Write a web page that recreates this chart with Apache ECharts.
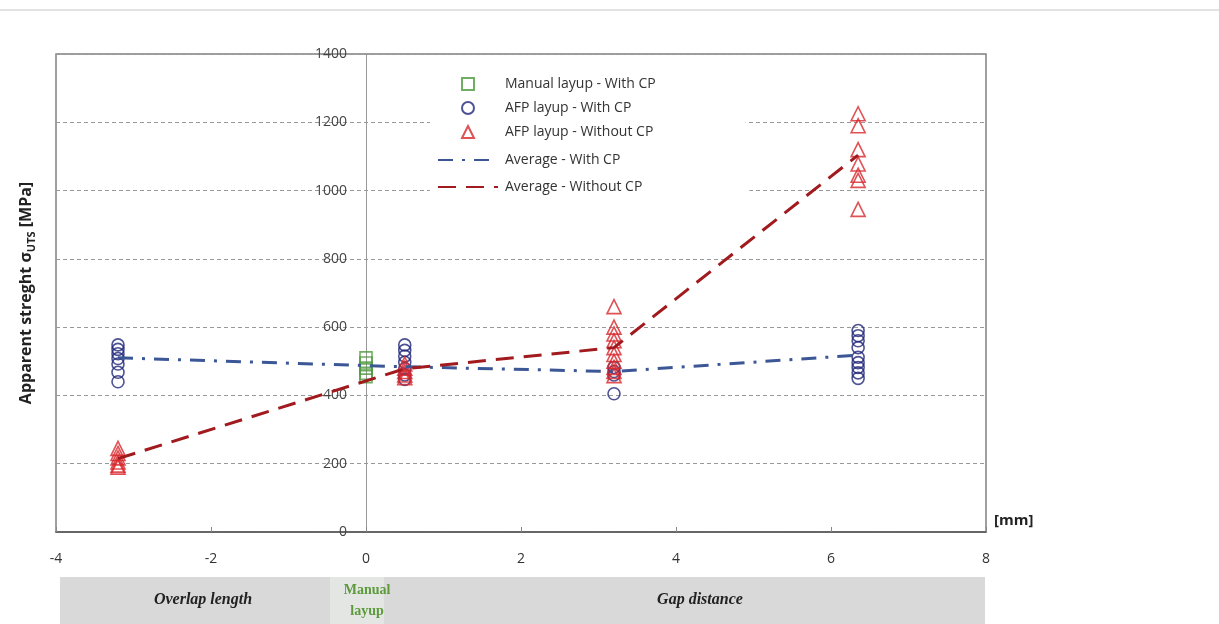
<!DOCTYPE html>
<html>
<head>
<meta charset="utf-8">
<script src="https://cdn.jsdelivr.net/npm/echarts@6/dist/echarts.min.js"></script>
<style>html,body{margin:0;padding:0;background:#fff;}#c{width:1219px;height:624px;}</style>
</head>
<body>
<div id="c"></div>
<script>
// ---- data ----
const seriesNames = ['Manual layup - With CP', 'AFP layup - With CP', 'AFP layup - Without CP', 'Average - With CP', 'Average - Without CP'];
const xTicks = [-4, -2, 0, 2, 4, 6, 8];
const yTicks = [0, 200, 400, 600, 800, 1000, 1200, 1400];

const manualX = [0];
const manualY = [[510, 495, 480, 465, 455]];

const afpWithX = [-3.2, 0.5, 3.2, 6.35];
const afpWithY = [
  [548, 535, 522, 508, 492, 468, 440],
  [548, 532, 515, 497, 478, 460, 447],
  [482, 470, 460, 405],
  [590, 575, 560, 540, 512, 496, 482, 466, 450]
];

const afpWithoutX = [-3.2, 0.5, 3.2, 6.35];
const afpWithoutY = [
  [245, 230, 217, 205, 196, 190],
  [492, 480, 470, 460, 452],
  [660, 600, 580, 560, 540, 520, 500, 482, 470, 458],
  [1225, 1190, 1120, 1078, 1045, 1030, 945]
];

const avgWithX = [-3.2, 0.5, 3.2, 6.35];
const avgWithY = [510, 484, 470, 518];
const avgWithoutX = [-3.2, 0.5, 3.2, 6.35];
const avgWithoutY = [215, 478, 540, 1104];

function pairs(xs, ys) {
  const out = [];
  xs.forEach((x, i) => ys[i].forEach(v => out.push([x, v])));
  return out;
}
function linePairs(xs, ys) { return xs.map((x, i) => [x, ys[i]]); }

const chart = echarts.init(document.getElementById('c'), null, {renderer: 'canvas'});
const sans = '"Open Sans", "Liberation Sans", sans-serif';

chart.setOption({
  animation: false,
  backgroundColor: '#fff',
  grid: {left: 56, right: 233, top: 54, bottom: 92, show: true, borderColor: '#808080', borderWidth: 1.5,
         backgroundColor: 'transparent', containLabel: false, outerBoundsMode: 'none'},
  legend: [
    {
      data: seriesNames.slice(0, 3),
      orient: 'vertical', left: 430, top: 69, itemGap: 10,
      itemWidth: 12, itemHeight: 12,
      backgroundColor: '#fff', padding: [8, 90, 8, 31],
      textStyle: {fontFamily: sans, fontSize: 14, color: '#333', padding: [0, 0, 0, 26]},
      z: 10
    },
    {
      data: seriesNames.slice(3),
      orient: 'vertical', left: 430, top: 145, itemGap: 13,
      itemWidth: 60, itemHeight: 12,
      backgroundColor: '#fff', padding: [8, 107, 8, 7],
      textStyle: {fontFamily: sans, fontSize: 14, color: '#333', padding: [0, 0, 0, 2]},
      z: 10
    }
  ],
  xAxis: {
    type: 'value', min: xTicks[0], max: xTicks[xTicks.length - 1], interval: 2,
    name: '[mm]', nameLocation: 'end', nameGap: 8,
    nameTextStyle: {fontFamily: sans, fontSize: 15, fontWeight: 'bold', color: '#222', verticalAlign: 'bottom', padding: [0, 0, 4, 0]},
    axisLine: {lineStyle: {color: '#555', width: 1.5}},
    axisTick: {inside: true, length: 5, lineStyle: {color: '#888'}},
    axisLabel: {margin: 20, fontFamily: sans, fontSize: 14, color: '#333'},
    splitLine: {show: false}
  },
  yAxis: {
    type: 'value', min: yTicks[0], max: yTicks[yTicks.length - 1], interval: 200,
    name: '{b|Apparent streght σ}{s|UTS}{b| [MPa]}',
    nameLocation: 'middle', nameGap: 19,
    nameTextStyle: {
      rich: {
        b: {fontFamily: sans, fontSize: 16, fontWeight: 'bold', color: '#222', lineHeight: 22},
        s: {fontFamily: sans, fontSize: 11, fontWeight: 'bold', color: '#222', lineHeight: 22, verticalAlign: 'bottom'}
      }
    },
    axisLine: {onZero: true, lineStyle: {color: '#999', width: 1}},
    axisTick: {show: false},
    axisLabel: {margin: -291, fontFamily: sans, fontSize: 14, color: '#444', formatter: v => String(v)},
    splitLine: {show: true, lineStyle: {color: '#999', type: [4, 3], width: 1}}
  },
  series: [
    {
      name: seriesNames[0], type: 'scatter', symbol: 'rect', symbolSize: 12,
      itemStyle: {color: 'rgba(255,255,255,0)', borderColor: '#4e9a3c', borderWidth: 1.6},
      data: pairs(manualX, manualY)
    },
    {
      name: seriesNames[1], type: 'scatter', symbol: 'circle', symbolSize: 12,
      itemStyle: {color: 'rgba(255,255,255,0)', borderColor: '#1f2778', borderWidth: 1.6},
      data: pairs(afpWithX, afpWithY)
    },
    {
      name: seriesNames[2], type: 'scatter', symbol: 'triangle', symbolSize: 14,
      itemStyle: {color: 'rgba(255,255,255,0)', borderColor: '#d8262b', borderWidth: 1.6},
      data: pairs(afpWithoutX, afpWithoutY)
    },
    {
      name: seriesNames[3], type: 'line', symbol: 'none',
      lineStyle: {color: '#3c5796', width: 3, type: [15, 9, 3, 9]},
      itemStyle: {color: 'rgba(0,0,0,0)', borderWidth: 0},
      data: linePairs(avgWithX, avgWithY)
    },
    {
      name: seriesNames[4], type: 'line', symbol: 'none',
      lineStyle: {color: '#a11a1e', width: 3, type: [18, 10]},
      itemStyle: {color: 'rgba(0,0,0,0)', borderWidth: 0},
      data: linePairs(avgWithoutX, avgWithoutY)
    }
  ],
  graphic: [
    {type: 'line', shape: {x1: 0, y1: 10, x2: 1219, y2: 10}, style: {stroke: '#e2e2e2', lineWidth: 2}, silent: true},
    {type: 'rect', shape: {x: 60, y: 577, width: 925, height: 50}, style: {fill: '#d9d9d9'}, silent: true},
    {type: 'rect', shape: {x: 330, y: 577, width: 54, height: 50}, style: {fill: '#e4e6e3'}, silent: true},
    {type: 'text', x: 203, y: 600, style: {text: 'Overlap length', font: 'italic bold 16px "Liberation Serif", serif', fill: '#222', align: 'center', verticalAlign: 'middle'}, silent: true},
    {type: 'text', x: 367, y: 601, style: {text: 'Manual\nlayup', font: 'bold 14px "Liberation Serif", serif', fill: '#5c9a3c', align: 'center', verticalAlign: 'middle', lineHeight: 21}, silent: true},
    {type: 'text', x: 700, y: 600, style: {text: 'Gap distance', font: 'italic bold 16px "Liberation Serif", serif', fill: '#222', align: 'center', verticalAlign: 'middle'}, silent: true}
  ]
});
</script>
</body>
</html>
